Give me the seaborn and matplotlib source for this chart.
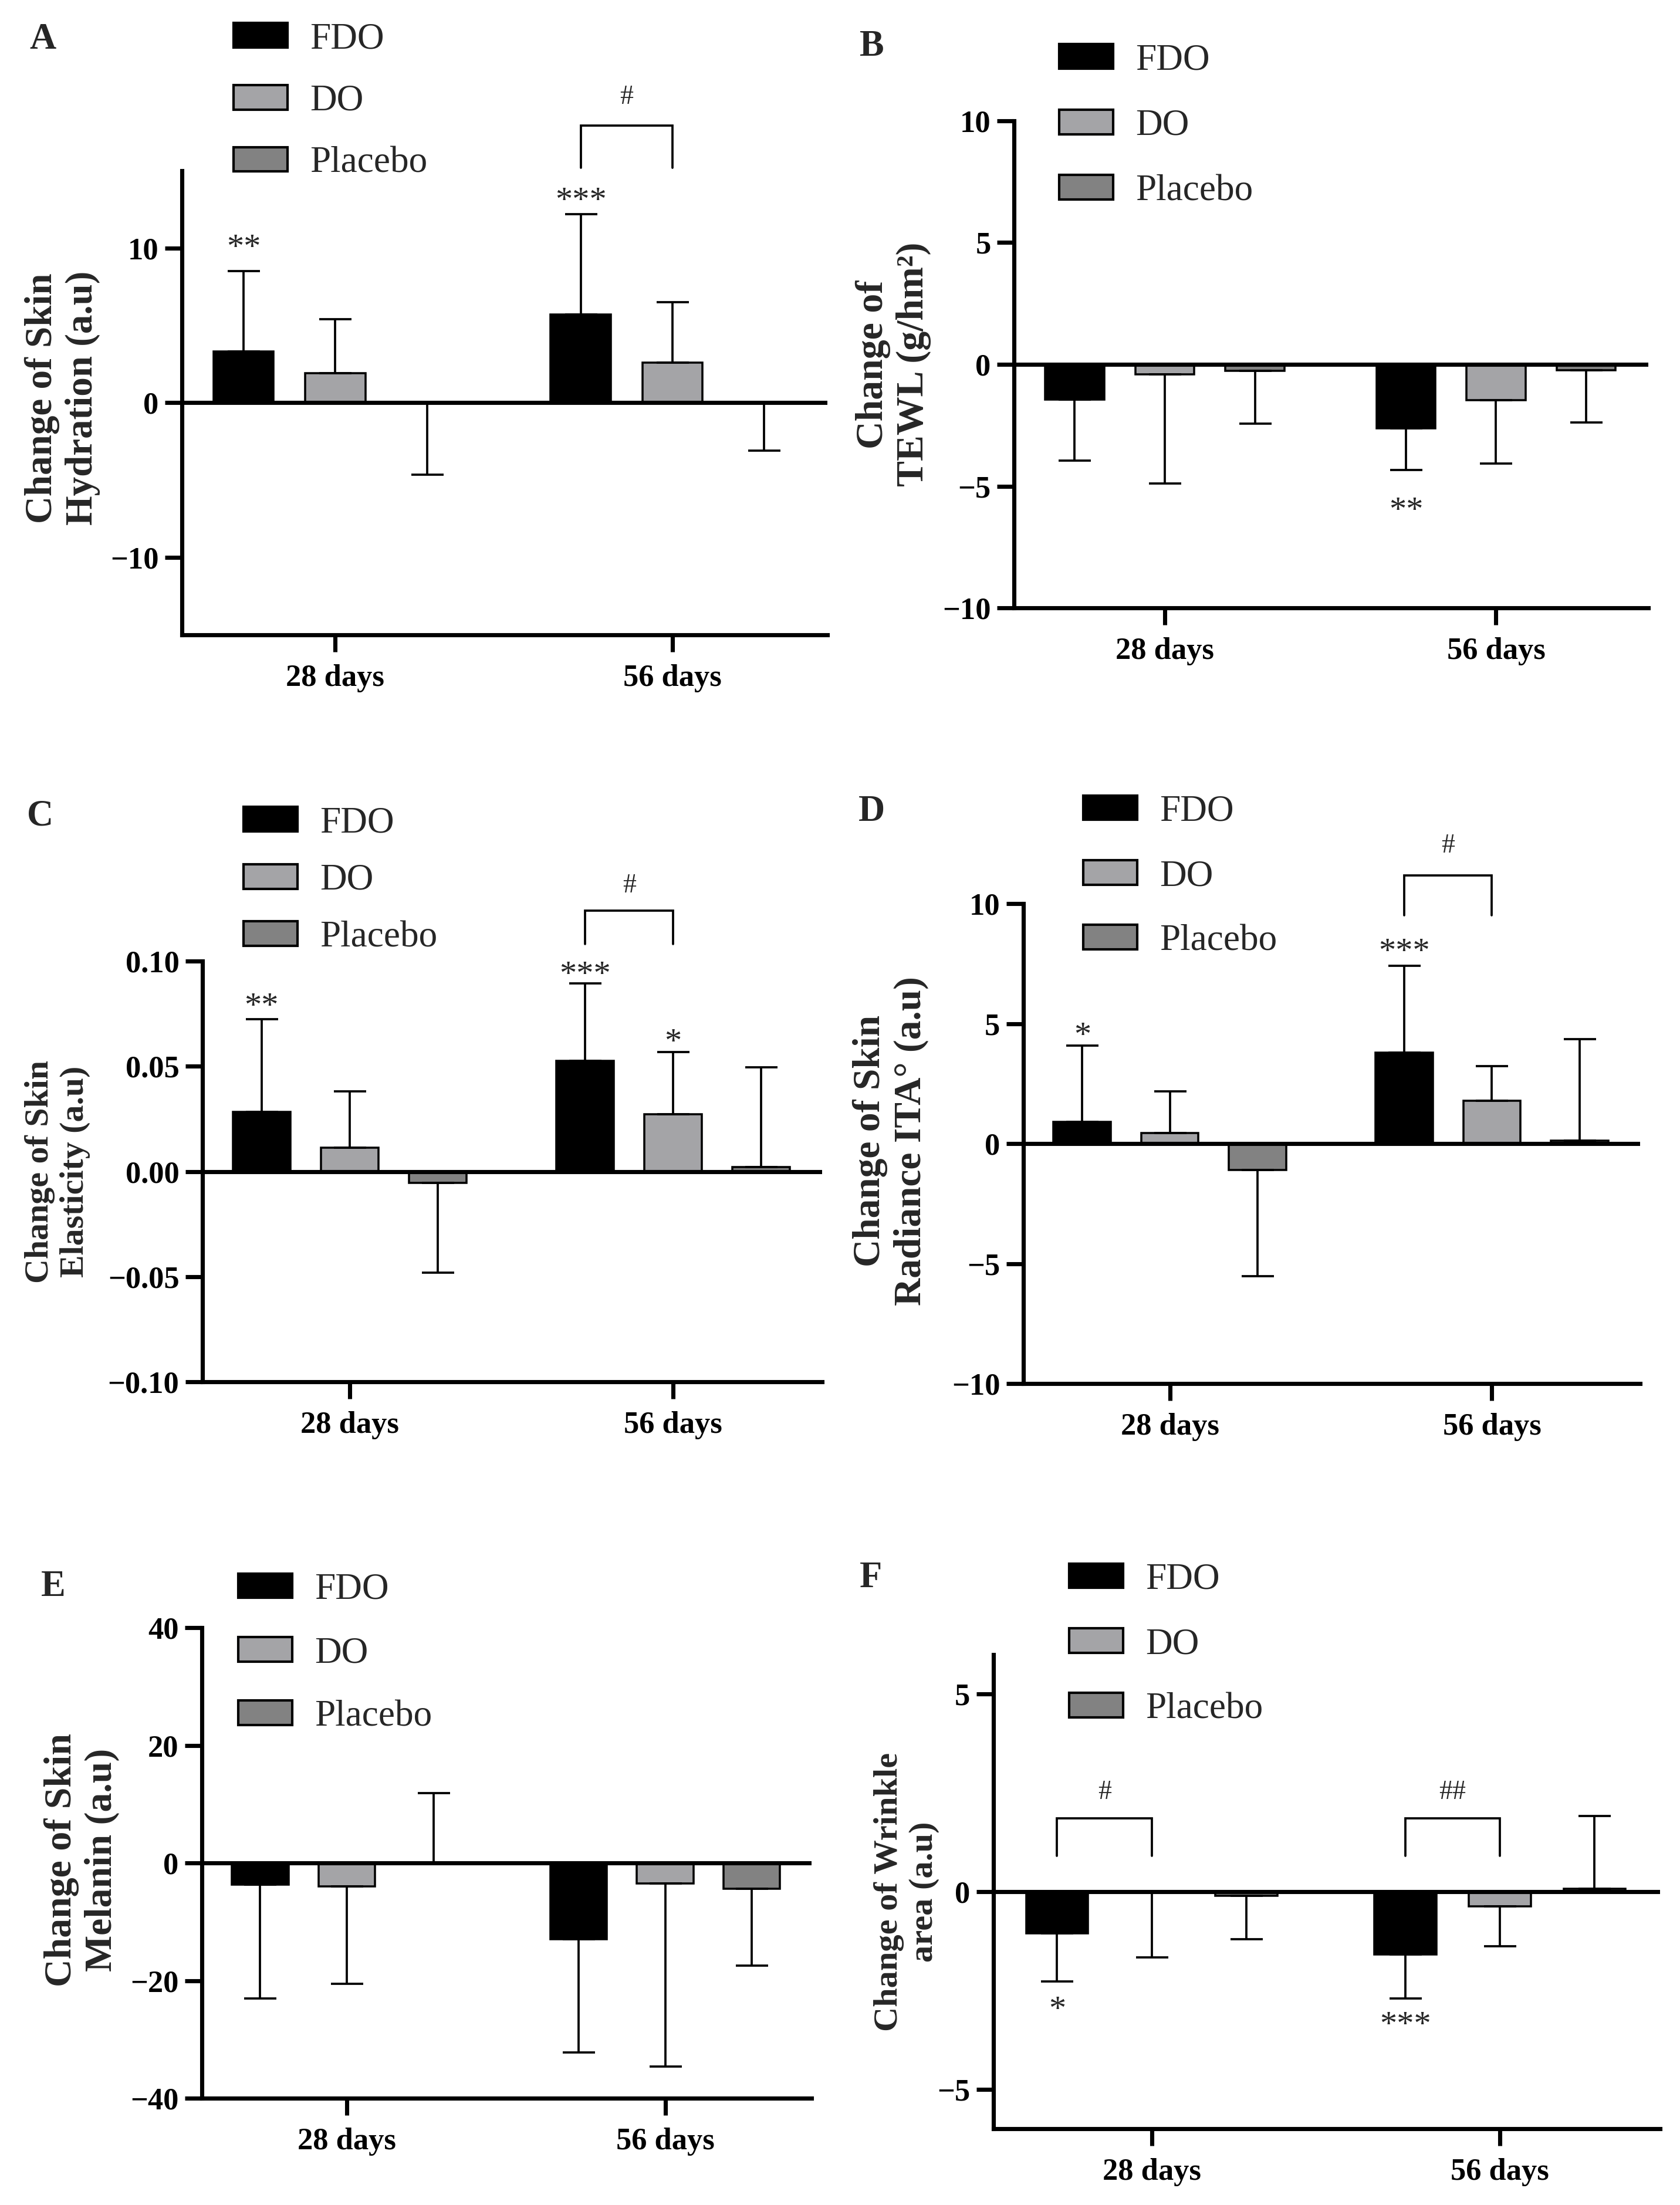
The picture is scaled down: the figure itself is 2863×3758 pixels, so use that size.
import numpy as np
import pandas as pd
import matplotlib
matplotlib.use('Agg')
import matplotlib.pyplot as plt
from matplotlib.patches import Patch
from matplotlib.ticker import FixedLocator, FuncFormatter
import seaborn as sns

sns.set_theme(style='ticks')
plt.rcParams['font.family'] = ['Liberation Serif', 'DejaVu Serif']

days = ['28 days', '56 days']
groups = ['FDO', 'DO', 'Placebo']
group_colors = ['#000000', '#a4a4a7', '#828282']

# rows = days, columns = groups; sign of sd gives the error bar direction
hydration_mean = [[3.3, 1.9, 0.0], [5.7, 2.6, 0.0]]
hydration_sd = [[5.2, 3.5, -4.65], [6.5, 3.9, -3.1]]
tewl_mean = [[-1.44, -0.42, -0.27], [-2.63, -1.48, -0.23]]
tewl_sd = [[-2.5, -4.48, -2.17], [-1.7, -2.6, -2.15]]
elasticity_mean = [[0.0283, 0.0114, -0.0054], [0.0525, 0.0272, 0.002]]
elasticity_sd = [[0.044, 0.0268, -0.0426], [0.037, 0.0297, 0.0476]]
radiance_mean = [[0.9, 0.43, -1.09], [3.79, 1.78, 0.12]]
radiance_sd = [[3.18, 1.74, -4.44], [3.63, 1.44, 4.24]]
melanin_mean = [[-3.7, -4.0, 0.0], [-13.0, -3.5, -4.4]]
melanin_sd = [[-19.3, -16.5, 11.9], [-19.2, -31.1, -13.0]]
wrinkle_mean = [[-1.06, 0.0, -0.11], [-1.59, -0.375, 0.07]]
wrinkle_sd = [[-1.21, -1.66, -1.09], [-1.11, -1.0, 1.84]]

# significance marks: (day, group, text, y)
hydration_stars = [(0, 0, '**', 10.5), (1, 0, '***', 13.5)]
tewl_stars = [(1, 0, '**', -5.7)]
elasticity_stars = [(0, 0, '**', 0.082), (1, 0, '***', 0.097), (1, 1, '*', 0.065)]
radiance_stars = [(0, 0, '*', 4.8), (1, 0, '***', 8.3)]
melanin_stars = []
wrinkle_stars = [(0, 0, '*', -2.8), (1, 0, '***', -3.2)]

# FDO vs DO brackets: (day, leg end y, top y, text, text y)
hydration_brackets = [(1, 15.2, 17.9, '#', 19.9)]
elasticity_brackets = [(1, 0.108, 0.124, '#', 0.137)]
radiance_brackets = [(1, 9.5, 11.17, '#', 12.5)]
wrinkle_brackets = [(0, 0.91, 1.86, '#', 2.58), (1, 0.91, 1.86, '##', 2.58)]

panels = [
    dict(letter='A', mean=hydration_mean, sd=hydration_sd, stars=hydration_stars,
         brackets=hydration_brackets, ylabel='Change of Skin\nHydration (a.u)',
         ylim=(-15, 15), yticks=[-10, 0, 10], dec=0,
         rect=[0.1083, 0.7121, 0.3842, 0.2105], lab=(-0.185, 0.51), labsize=15.6,
         leg=(0.1390, 0.9540), pitch=105.5, pos=(0.0255, 0.9819)),
    dict(letter='B', mean=tewl_mean, sd=tewl_sd, stars=tewl_stars,
         brackets=[], ylabel='Change of\nTEWL (g/hm²)',
         ylim=(-10, 10), yticks=[-10, -5, 0, 5, 10], dec=0,
         rect=[0.6036, 0.7243, 0.3776, 0.2209], lab=(-0.19, 0.5), labsize=15.8,
         leg=(0.6305, 0.9428), pitch=111, pos=(0.5190, 0.9787)),
    dict(letter='C', mean=elasticity_mean, sd=elasticity_sd, stars=elasticity_stars,
         brackets=elasticity_brackets, ylabel='Change of Skin\nElasticity (a.u)',
         ylim=(-0.1, 0.1), yticks=[-0.1, -0.05, 0, 0.05, 0.1], dec=2,
         rect=[0.1205, 0.3733, 0.3688, 0.1908], lab=(-0.234, 0.5), labsize=13.9,
         leg=(0.1450, 0.6006), pitch=97, pos=(0.0238, 0.6296)),
    dict(letter='D', mean=radiance_mean, sd=radiance_sd, stars=radiance_stars,
         brackets=radiance_brackets, ylabel='Change of Skin\nRadiance ITA° (a.u)',
         ylim=(-10, 10), yticks=[-10, -5, 0, 5, 10], dec=0,
         rect=[0.6091, 0.3725, 0.3671, 0.2177], lab=(-0.215, 0.506), labsize=15.7,
         leg=(0.6448, 0.6024), pitch=110, pos=(0.5190, 0.6317)),
    dict(letter='E', mean=melanin_mean, sd=melanin_sd, stars=melanin_stars,
         brackets=[], ylabel='Change of Skin\nMelanin (a.u)',
         ylim=(-40, 40), yticks=[-40, -20, 0, 20, 40], dec=0,
         rect=[0.1202, 0.0484, 0.3629, 0.2134], lab=(-0.197, 0.507), labsize=15.8,
         leg=(0.1418, 0.2501), pitch=108, pos=(0.0318, 0.2802)),
    dict(letter='F', mean=wrinkle_mean, sd=wrinkle_sd, stars=wrinkle_stars,
         brackets=wrinkle_brackets, ylabel='Change of Wrinkle\narea (a.u)',
         ylim=(-6, 6), yticks=[-5, 0, 5], dec=0,
         rect=[0.5913, 0.0346, 0.3968, 0.2150], lab=(-0.13, 0.5), labsize=14.0,
         leg=(0.6364, 0.2541), pitch=110, pos=(0.5183, 0.2842)),
]

px_per_pt = 300 / 72
tick_fs = 12.6
leg_fs = 15.2
star_fs = 14
hash_fs = 11
axis_lw = 1.7
thin_lw = 0.9

fig = plt.figure(figsize=(2863 / 300, 3758 / 300), dpi=300)

for p in panels:
    ax = fig.add_axes(p['rect'])
    rows = []
    for i, d in enumerate(days):
        for j, g in enumerate(groups):
            rows.append({'day': d, 'group': g, 'value': p['mean'][i][j], 'sd': p['sd'][i][j]})
    df = pd.DataFrame(rows)

    sns.barplot(data=df, x='day', y='value', hue='group', order=days, hue_order=groups,
                palette=group_colors, width=0.816, gap=0.345, errorbar=None,
                edgecolor='black', linewidth=0.85, saturation=1, legend=False, ax=ax)

    bars = sorted(ax.patches, key=lambda b: b.get_x() + b.get_width() / 2)
    xc = np.array([b.get_x() + b.get_width() / 2 for b in bars])
    yv = df['value'].to_numpy()
    sd = df['sd'].to_numpy()
    lo = np.where(sd < 0, -sd, 0)
    hi = np.where(sd > 0, sd, 0)
    ax.errorbar(xc, yv, yerr=[lo, hi], fmt='none', ecolor='black',
                elinewidth=thin_lw, capsize=6.6, capthick=thin_lw, zorder=3)

    ax.axhline(0, color='black', lw=axis_lw, zorder=4)

    for di, gi, txt, y in p['stars']:
        ax.annotate(txt, (xc[di * 3 + gi], y), xytext=(0, -0.48 * star_fs),
                    textcoords='offset points', ha='center', va='baseline',
                    fontsize=star_fs, annotation_clip=False)

    for di, y_leg, y_top, txt, y_txt in p['brackets']:
        x1, x2 = xc[di * 3], xc[di * 3 + 1]
        ax.plot([x1, x1, x2, x2], [y_leg, y_top, y_top, y_leg], color='black',
                lw=thin_lw, clip_on=False, solid_joinstyle='miter')
        ax.annotate(txt, ((x1 + x2) / 2, y_txt), xytext=(0, -0.34 * hash_fs),
                    textcoords='offset points', ha='center', va='baseline',
                    fontsize=hash_fs, annotation_clip=False)

    ax.set_xlim(-0.455, 1.46)
    ax.set_ylim(*p['ylim'])
    ax.yaxis.set_major_locator(FixedLocator(p['yticks']))
    dec = p['dec']
    ax.yaxis.set_major_formatter(FuncFormatter(
        lambda v, pos, dec=dec: f"{v:.{dec}f}".replace('-', '\u2212')))
    ax.set_xlabel('')
    ax.set_ylabel(p['ylabel'], fontsize=p['labsize'], fontweight='bold')
    ax.yaxis.label.set_va('center')
    ax.yaxis.set_label_coords(*p['lab'])

    sns.despine(ax=ax)
    for s in ['left', 'bottom']:
        ax.spines[s].set_linewidth(axis_lw)
        ax.spines[s].set_color('black')
    ax.tick_params(axis='both', length=7, width=axis_lw, color='black',
                   labelsize=tick_fs, labelcolor='black')
    ax.tick_params(axis='x', pad=5)
    ax.tick_params(axis='y', pad=2.5)
    for lbl in ax.get_xticklabels() + ax.get_yticklabels():
        lbl.set_fontweight('bold')

    handles = [Patch(facecolor=c, edgecolor='black', linewidth=1.0) for c in group_colors]
    pitch_pt = p['pitch'] / px_per_pt
    ax.legend(handles, groups, loc='center left', bbox_to_anchor=p['leg'],
              bbox_transform=fig.transFigure, frameon=False, borderpad=0,
              borderaxespad=0, fontsize=leg_fs, handlelength=1.45,
              handleheight=0.64, handletextpad=0.6,
              labelspacing=(pitch_pt - 0.91 * leg_fs) / leg_fs)

    fig.text(p['pos'][0], p['pos'][1], p['letter'], fontsize=15, fontweight='bold',
             ha='center', va='center')

fig.savefig('out.png', dpi=300)
